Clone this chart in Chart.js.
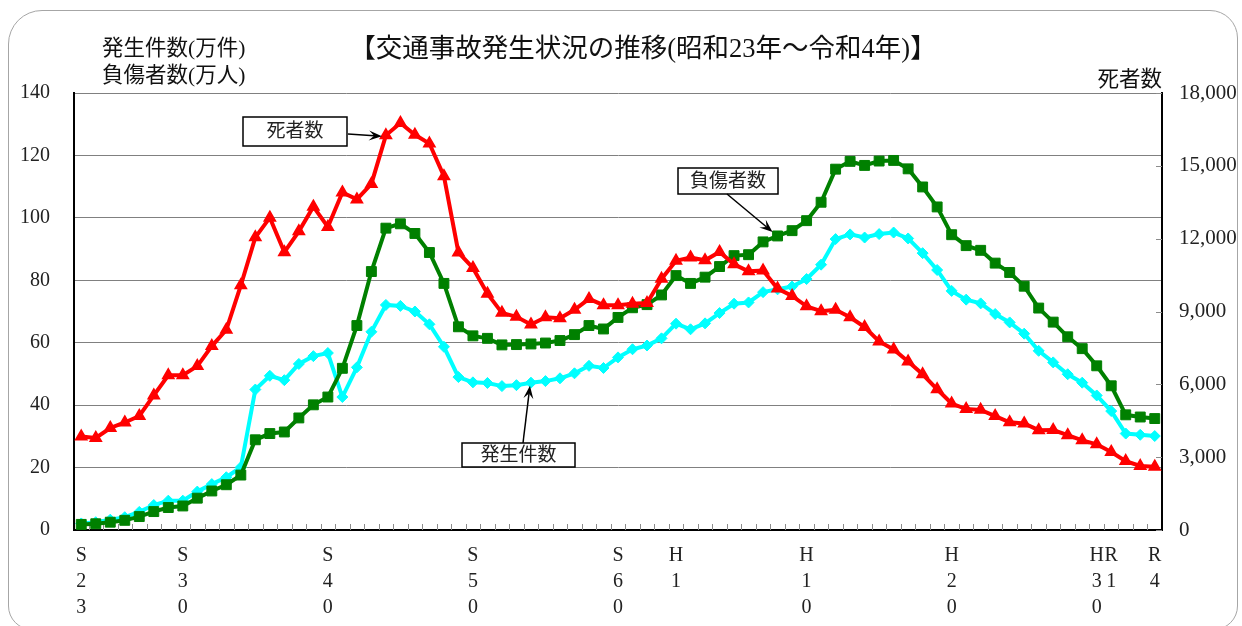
<!DOCTYPE html>
<html lang="ja">
<head>
<meta charset="utf-8">
<script src="https://cdn.jsdelivr.net/npm/chart.js@4.4.1/dist/chart.umd.min.js"></script>
<style>
  html, body { margin: 0; padding: 0; background: #fff; }
  #wrap { position: relative; width: 1242px; height: 626px; overflow: hidden; }
  #frame { position: absolute; left: 8px; top: 10px; width: 1230px; height: 620px; border: 1px solid #a6a6a6; border-radius: 34px 28px 24px 24px; box-sizing: border-box; }
  canvas { position: absolute; left: 0; top: 0; }
</style>
</head>
<body>
<div id="wrap"><div id="frame"></div><canvas id="myChart" width="1242" height="626"></canvas></div>
<script>
// years S23 (1948) .. R4 (2022)
const years = [
  'S23', 'S24', 'S25', 'S26', 'S27', 'S28', 'S29', 'S30', 'S31', 'S32',
  'S33', 'S34', 'S35', 'S36', 'S37', 'S38', 'S39', 'S40', 'S41', 'S42',
  'S43', 'S44', 'S45', 'S46', 'S47', 'S48', 'S49', 'S50', 'S51', 'S52',
  'S53', 'S54', 'S55', 'S56', 'S57', 'S58', 'S59', 'S60', 'S61', 'S62',
  'S63', 'H1', 'H2', 'H3', 'H4', 'H5', 'H6', 'H7', 'H8', 'H9',
  'H10', 'H11', 'H12', 'H13', 'H14', 'H15', 'H16', 'H17', 'H18', 'H19',
  'H20', 'H21', 'H22', 'H23', 'H24', 'H25', 'H26', 'H27', 'H28', 'H29',
  'H30', 'R1', 'R2', 'R3', 'R4',
];
const shownTicks = ['S23', 'S30', 'S40', 'S50', 'S60', 'H1', 'H10', 'H20', 'H30', 'R1', 'R4'];

// 発生件数 (万件)
const accidents = [
  2.1, 2.5, 3.3, 4.1, 5.8, 8.0, 9.4, 9.4, 12.3, 14.7,
  16.9, 20.1, 45.0, 49.4, 48.0, 53.2, 55.7, 56.7, 42.6, 52.1,
  63.5, 72.1, 71.8, 70.0, 65.9, 58.7, 49.0, 47.3, 47.1, 46.1,
  46.4, 47.2, 47.7, 48.6, 50.2, 52.6, 51.9, 55.3, 57.9, 59.1,
  61.4, 66.1, 64.3, 66.2, 69.5, 72.5, 72.9, 76.2, 77.1, 78.0,
  80.4, 85.0, 93.2, 94.7, 93.7, 94.8, 95.3, 93.4, 88.7, 83.3,
  76.6, 73.8, 72.6, 69.2, 66.5, 62.9, 57.4, 53.7, 49.9, 47.2,
  43.1, 38.1, 30.9, 30.5, 30.1,
];
// 負傷者数 (万人)
const injured = [
  1.8, 2.0, 2.5, 3.1, 4.3, 5.9, 7.2, 7.7, 10.2, 12.5,
  14.5, 17.6, 28.9, 30.9, 31.4, 35.9, 40.1, 42.6, 51.8, 65.5,
  82.8, 96.7, 98.1, 95.0, 88.9, 79.0, 65.1, 62.2, 61.4, 59.3,
  59.4, 59.6, 59.9, 60.7, 62.6, 65.5, 64.4, 68.1, 71.2, 72.2,
  75.3, 81.5, 79.0, 81.0, 84.4, 87.9, 88.2, 92.3, 94.2, 95.9,
  99.1, 105.0, 115.6, 118.1, 116.8, 118.2, 118.4, 115.7, 109.9, 103.5,
  94.6, 91.1, 89.6, 85.5, 82.5, 78.1, 71.1, 66.6, 61.9, 58.1,
  52.6, 46.2, 36.9, 36.2, 35.7,
];
// 死者数 (人)
const deaths = [
  3848, 3790, 4202, 4429, 4696, 5544, 6374, 6379, 6751, 7575,
  8248, 10079, 12055, 12865, 11445, 12301, 13318, 12484, 13904, 13618,
  14256, 16257, 16765, 16278, 15918, 14574, 11432, 10792, 9734, 8945,
  8783, 8466, 8760, 8719, 9073, 9520, 9262, 9261, 9317, 9347,
  10344, 11086, 11227, 11109, 11452, 10945, 10653, 10684, 9943, 9642,
  9214, 9012, 9073, 8760, 8358, 7768, 7436, 6937, 6415, 5796,
  5209, 4979, 4948, 4691, 4438, 4388, 4113, 4117, 3904, 3694,
  3532, 3215, 2839, 2636, 2610,
];

const serif = "'Liberation Serif', 'Noto Sans CJK JP', serif";

// labelled boxes with arrows pointing at a data point
const callouts = [
  { text: '死者数', box: [243, 117, 104, 29], from: [348, 134], ds: 0, index: 21, dx: -4, dy: 1 },
  { text: '負傷者数', box: [678, 168, 100, 26], from: [727, 194], ds: 1, index: 48, dx: -5, dy: -4 },
  { text: '発生件数', box: [462, 443, 113, 24], from: [523, 443], ds: 2, index: 31, dx: -1, dy: 3 },
];

const drawArrow = (ctx, x0, y0, x1, y1) => {
  const a = Math.atan2(y1 - y0, x1 - x0);
  const h = 13, w = 5;
  const c = Math.cos(a), s = Math.sin(a);
  ctx.beginPath();
  ctx.moveTo(x0, y0);
  ctx.lineTo(x1 - c * h * 0.6, y1 - s * h * 0.6);
  ctx.stroke();
  ctx.beginPath();
  ctx.moveTo(x1, y1);
  ctx.lineTo(x1 - c * h + s * w, y1 - s * h - c * w);
  ctx.lineTo(x1 - c * h * 0.6, y1 - s * h * 0.6);
  ctx.lineTo(x1 - c * h - s * w, y1 - s * h + c * w);
  ctx.closePath();
  ctx.fill();
};

const overlay = {
  id: 'overlay',
  beforeDatasetsDraw(chart) {
    const { ctx, chartArea: area, scales: { x, y2 } } = chart;
    ctx.save();
    ctx.strokeStyle = '#8c8c8c';
    ctx.lineWidth = 1;
    // small inner ticks between the years
    for (let i = 1; i < years.length; i++) {
      const px = Math.round((x.getPixelForValue(i - 1) + x.getPixelForValue(i)) / 2) + 0.5;
      ctx.beginPath();
      ctx.moveTo(px, area.bottom);
      ctx.lineTo(px, area.bottom - 6);
      ctx.stroke();
    }
    // inner ticks of the right axis
    y2.ticks.forEach((t) => {
      const py = Math.round(y2.getPixelForValue(t.value)) + 0.5;
      ctx.beginPath();
      ctx.moveTo(area.right - 6, py);
      ctx.lineTo(area.right, py);
      ctx.stroke();
    });
    ctx.restore();
  },
  afterDraw(chart) {
    const { ctx } = chart;
    ctx.save();
    ctx.fillStyle = '#111';
    ctx.textBaseline = 'middle';

    ctx.font = `26.5px ${serif}`;
    ctx.textAlign = 'center';
    ctx.fillText('【交通事故発生状況の推移(昭和23年～令和4年)】', 643, 50);

    ctx.font = `21.5px ${serif}`;
    ctx.textAlign = 'left';
    ctx.fillText('発生件数(万件)', 102, 49);
    ctx.fillText('負傷者数(万人)', 102, 76);
    ctx.textAlign = 'right';
    ctx.fillText('死者数', 1162, 80);

    // callouts
    ctx.font = `19px ${serif}`;
    ctx.textAlign = 'center';
    callouts.forEach((c) => {
      const [bx, by, bw, bh] = c.box;
      ctx.fillStyle = '#fff';
      ctx.fillRect(bx, by, bw, bh);
      ctx.strokeStyle = '#000';
      ctx.lineWidth = 1.5;
      ctx.strokeRect(bx, by, bw, bh);
      ctx.fillStyle = '#222';
      ctx.fillText(c.text, bx + bw / 2, by + bh / 2 + 1);
      const pt = chart.getDatasetMeta(c.ds).data[c.index];
      ctx.fillStyle = '#000';
      drawArrow(ctx, c.from[0], c.from[1], pt.x + c.dx, pt.y + c.dy);
    });
    ctx.restore();
  },
};

const main = () => {
  const ctx = document.getElementById('myChart').getContext('2d');
  const tickFont = { family: serif, size: 20 };

  const config = {
    type: 'line',
    data: {
      labels: years,
      datasets: [
        {
          label: '死者数',
          data: deaths,
          yAxisID: 'y2',
          borderColor: '#ff0000',
          backgroundColor: '#ff0000',
          borderWidth: 4,
          pointStyle: 'triangle',
          pointRadius: 6.5,
          pointBorderWidth: 1.5,
        },
        {
          label: '負傷者数',
          data: injured,
          yAxisID: 'y',
          borderColor: '#008000',
          backgroundColor: '#008000',
          borderWidth: 4,
          pointStyle: 'rect',
          pointRadius: 7,
          pointBorderWidth: 1,
        },
        {
          label: '発生件数',
          data: accidents,
          yAxisID: 'y',
          borderColor: '#00ffff',
          backgroundColor: '#00ffff',
          borderWidth: 4,
          pointStyle: 'rectRot',
          pointRadius: 5.5,
          pointBorderWidth: 1,
        },
      ],
    },
    options: {
      responsive: false,
      animation: false,
      layout: { padding: { top: 93 } },
      plugins: {
        legend: { display: false },
        tooltip: { enabled: false },
      },
      scales: {
        x: {
          offset: true,
          grid: { display: false, drawTicks: false },
          border: { display: true, color: '#000', width: 2 },
          ticks: {
            autoSkip: false,
            maxRotation: 0,
            minRotation: 0,
            padding: 13,
            color: '#222',
            font: { ...tickFont, lineHeight: 1.3 },
            callback: (v, i) => (shownTicks.includes(years[i]) ? years[i].split('') : ''),
          },
          afterFit: (s) => { s.height = 96; },
        },
        y: {
          position: 'left',
          min: 0,
          max: 140,
          ticks: { stepSize: 20, padding: 24, color: '#222', font: tickFont },
          grid: { color: '#808080', lineWidth: 1, drawTicks: false },
          border: { color: '#000', width: 2 },
          afterFit: (s) => { s.width = 74; },
        },
        y2: {
          position: 'right',
          min: 0,
          max: 18000,
          ticks: {
            stepSize: 3000,
            padding: 17,
            color: '#222',
            font: { ...tickFont, size: 21 },
            callback: (v) => v.toLocaleString('en-US'),
          },
          grid: { drawOnChartArea: false, drawTicks: false },
          border: { color: '#000', width: 2 },
          afterFit: (s) => { s.width = 80; },
        },
      },
    },
    plugins: [overlay],
  };

  new Chart(ctx, config);
};

main();
</script>
</body>
</html>
